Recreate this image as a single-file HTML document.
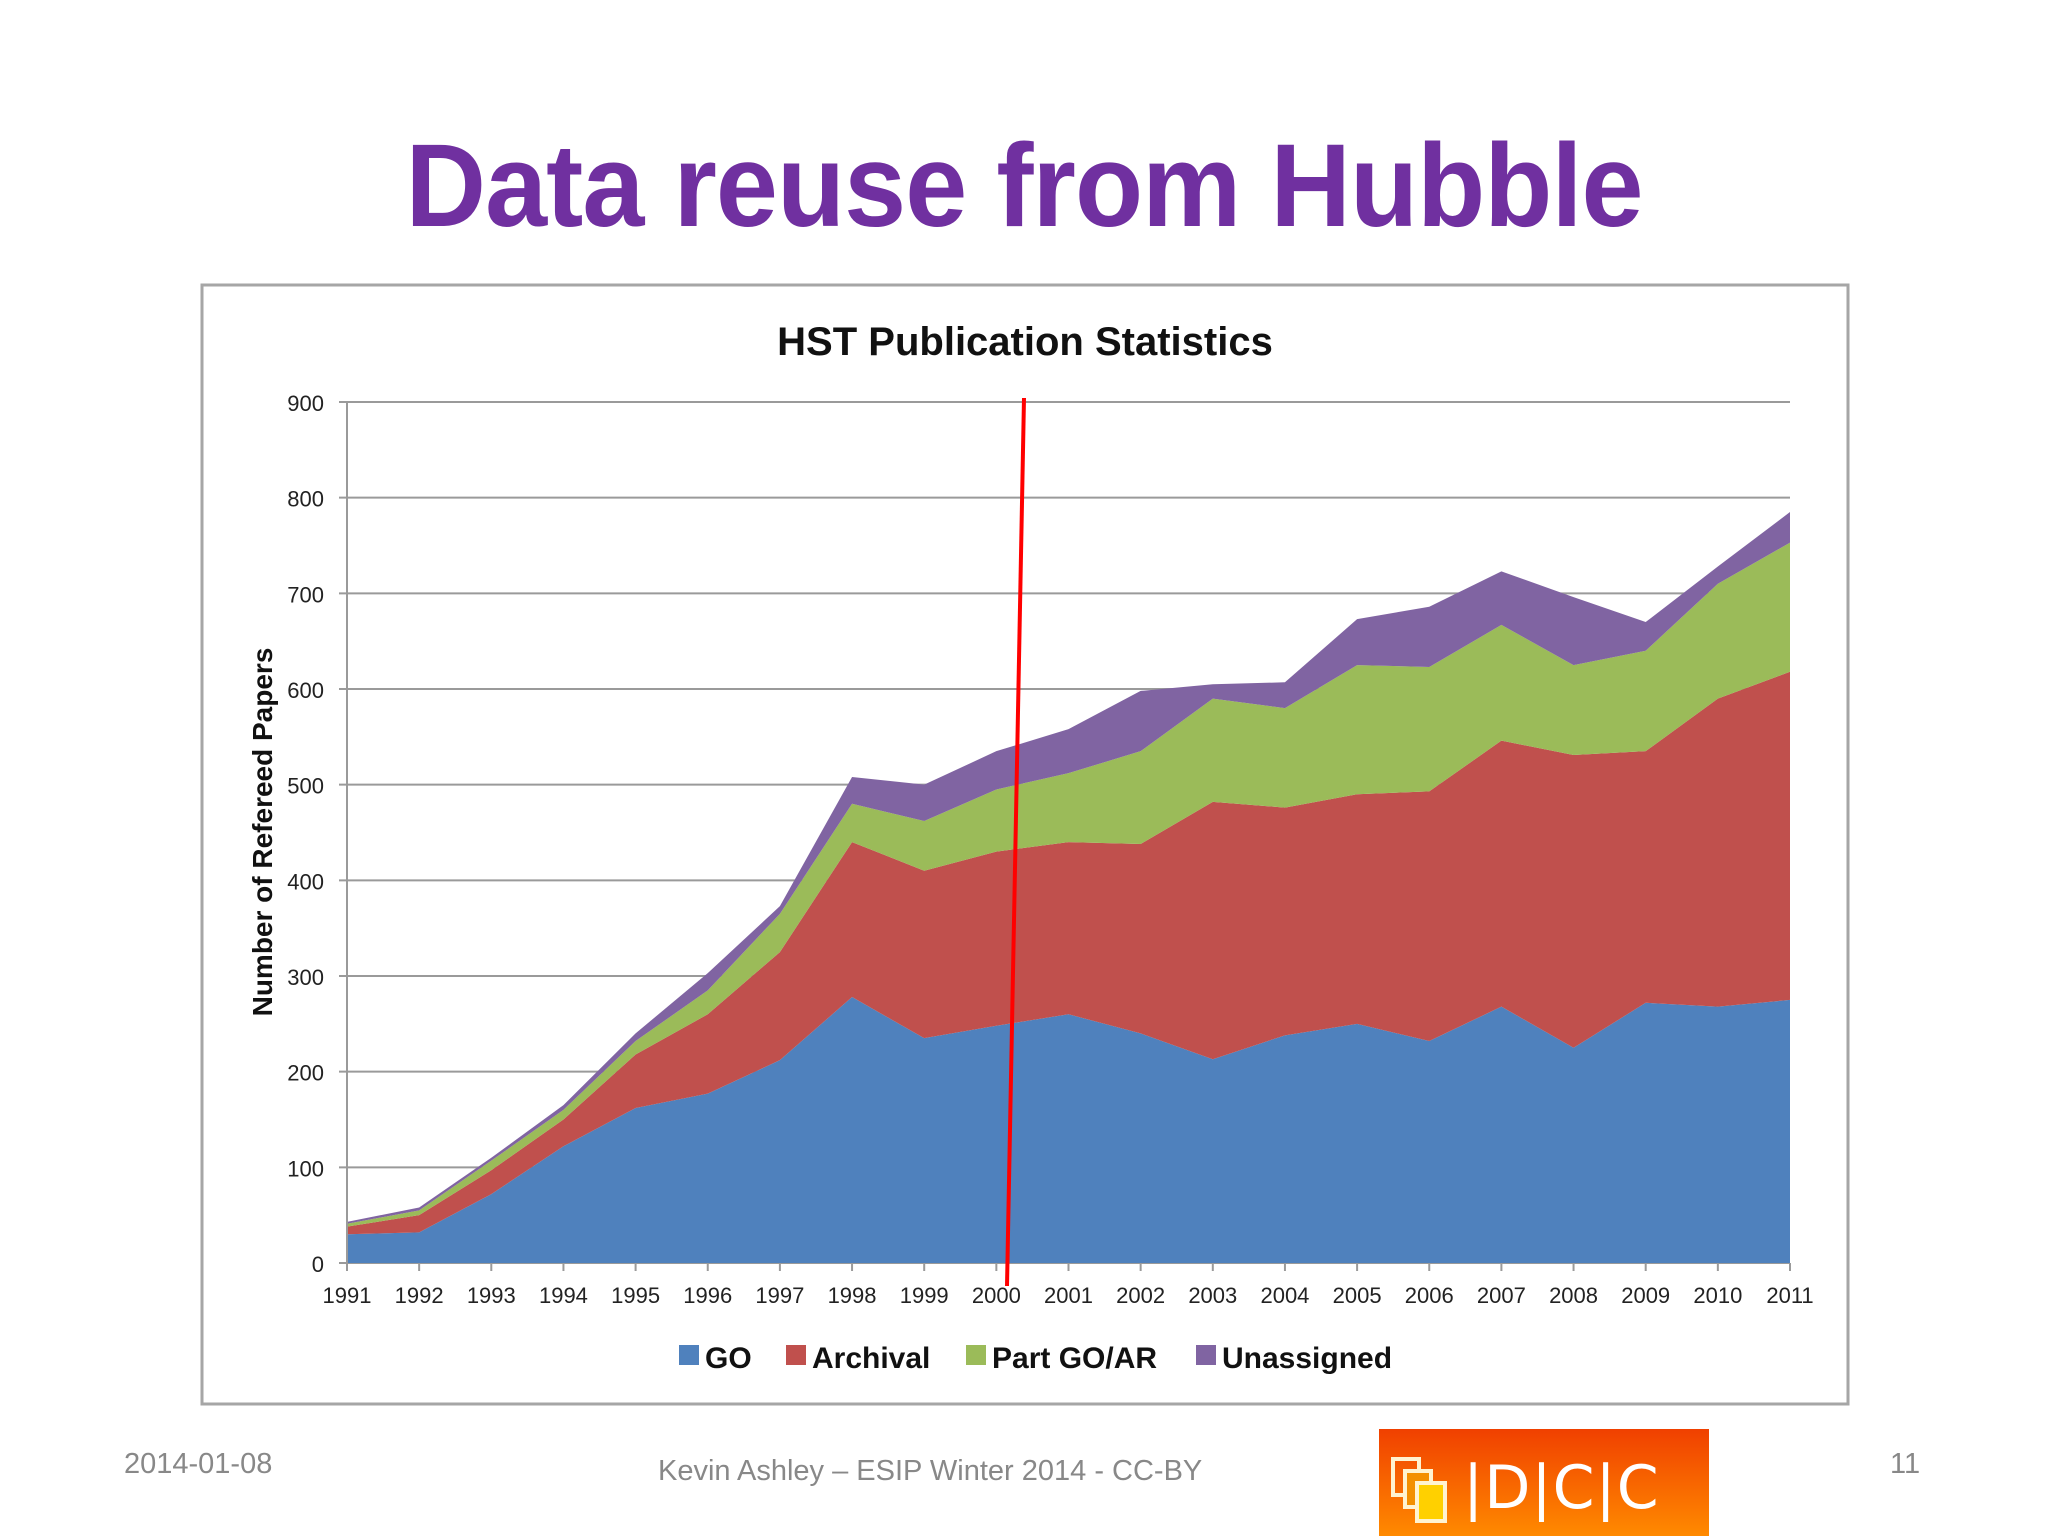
<!DOCTYPE html>
<html><head><meta charset="utf-8"><style>
body{margin:0;width:2048px;height:1536px;background:#fff;overflow:hidden;position:relative;font-family:"Liberation Sans",sans-serif}
.abs{position:absolute}
</style></head><body>
<div class="abs" style="left:0;width:2048px;top:118px;text-align:center;font-size:118px;font-weight:bold;color:#7030a0;letter-spacing:-1px;transform:scaleX(0.945);transform-origin:1025px 0">Data reuse from Hubble</div>
<svg class="abs" style="left:0;top:0" width="2048" height="1536">
<rect x="202" y="285" width="1646" height="1119" fill="#fff" stroke="#a6a6a6" stroke-width="3"/>
<text x="1025" y="355" text-anchor="middle" font-size="40" font-weight="bold" fill="#111">HST Publication Statistics</text>
<g id="grid"></g><g id="areas"></g><g id="axes"></g>
<text transform="translate(272,832) rotate(-90)" text-anchor="middle" font-size="28" font-weight="bold" fill="#111">Number of Refereed Papers</text>
<g id="legend"></g>
<line x1="1024" y1="398" x2="1007" y2="1286" stroke="#ff0000" stroke-width="4"/>
</svg>
<div class="abs" style="left:124px;top:1448px;font-size:29px;color:#888">2014-01-08</div>
<div class="abs" style="left:658px;top:1455px;font-size:29px;color:#888">Kevin Ashley – ESIP Winter 2014 -  CC-BY</div>
<div class="abs" style="left:1890px;top:1448px;font-size:29px;color:#888">11</div>
<div class="abs" style="left:1379px;top:1429px;width:330px;height:107px;background:linear-gradient(#f04000,#ff8a00);overflow:hidden">
<div class="abs" style="left:12px;top:28px;width:22px;height:32px;border:4px solid #fff3d0"></div>
<div class="abs" style="left:24px;top:40px;width:22px;height:32px;border:4px solid #fff3d0;background:#f39000"></div>
<div class="abs" style="left:36px;top:52px;width:24px;height:34px;border:4px solid #fff3d0;background:#ffd000"></div>
<div class="abs" style="left:84px;top:24px;font-size:60px;color:#fff;letter-spacing:1px;font-family:'DejaVu Sans',sans-serif">|D|C|C</div>
</div>
<script>
const years=[1991,1992,1993,1994,1995,1996,1997,1998,1999,2000,2001,2002,2003,2004,2005,2006,2007,2008,2009,2010,2011];
const goValues=[30,32,72,122,162,177,212,278,235,248,260,240,213,238,250,232,268,225,272,268,275];
const archivalValues=[8,18,25,28,56,83,113,162,175,182,180,198,269,238,240,261,278,306,263,322,343];
const partValues=[3,5,10,10,14,25,40,40,52,65,72,97,108,104,135,130,121,94,105,120,135];
const unassignedValues=[2,3,3,5,8,18,8,28,38,40,46,63,15,27,48,63,56,71,30,18,32];
const yTicks=[0,100,200,300,400,500,600,700,800,900];
const NS='http://www.w3.org/2000/svg';
const X0=347,X1=1790,Y0=1263,Y1=402,YMAX=900;
const xs=i=>X0+(X1-X0)*i/(years.length-1);
const ys=v=>Y0-(Y0-Y1)*v/YMAX;
function mk(t,a,p){const e=document.createElementNS(NS,t);for(const k in a)e.setAttribute(k,a[k]);p.appendChild(e);return e;}
const grid=document.getElementById('grid'),axes=document.getElementById('axes'),areas=document.getElementById('areas'),legend=document.getElementById('legend');
yTicks.forEach(t=>{
 const l=mk('line',{x1:X0-8,x2:X1,y1:ys(t),y2:ys(t),stroke:'#9a9a9a','stroke-width':2},grid);
 
 
 const tx=mk('text',{x:324,y:ys(t)+9,'text-anchor':'end','font-size':22,fill:'#222'},axes);
 tx.textContent=t;
 
 
});
mk('line',{x1:X0,x2:X0,y1:Y1,y2:Y0,stroke:'#9a9a9a','stroke-width':2},axes);
years.forEach((y,i)=>{
 mk('line',{x1:xs(i),x2:xs(i),y1:Y0,y2:Y0+8,stroke:'#9a9a9a','stroke-width':2},axes);
 const tx=mk('text',{x:xs(i),y:1303,'text-anchor':'middle','font-size':22,fill:'#222'},axes);
 tx.textContent=y;
 
 
});
const series=[['GO',goValues,'#4f81bd'],['Archival',archivalValues,'#c0504d'],['Part GO/AR',partValues,'#9bbb59'],['Unassigned',unassignedValues,'#8064a2']];
let base=years.map(()=>0);
series.forEach(([name,vals,col])=>{
 const top=base.map((b,i)=>b+vals[i]);
 let d='M'+years.map((_,i)=>xs(i)+','+ys(top[i])).join(' L');
 for(let i=years.length-1;i>=0;i--)d+=' L'+xs(i)+','+ys(base[i]);
 const p=mk('path',{d:d+'Z',fill:col},areas);
 
 
 base=top;
});
const lx=[679,786,966,1196];
series.forEach(([name,,col],k)=>{
 const g=mk('g',{},legend);
 
 
 mk('rect',{x:lx[k],y:1345,width:20,height:20,fill:col},g);
 const t=mk('text',{x:lx[k]+26,y:1368,'font-size':30,'font-weight':'bold',fill:'#111'},g);
 t.textContent=name;
});
</script>
</body></html>
